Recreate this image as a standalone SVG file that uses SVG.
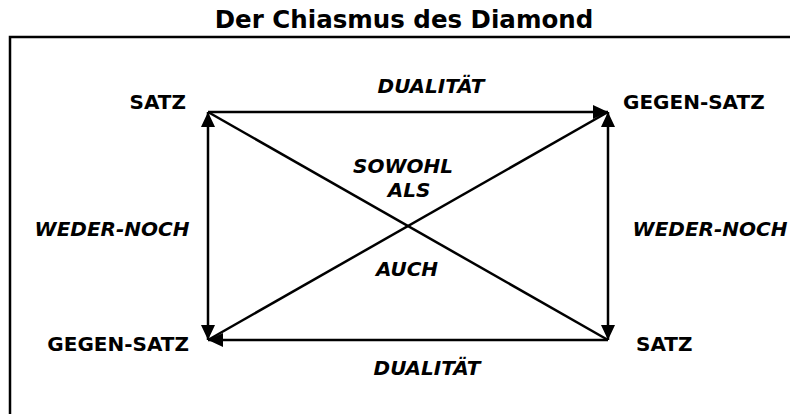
<svg xmlns="http://www.w3.org/2000/svg" width="790" height="414" viewBox="0 0 790 414">
  <style>
    .lbl { font-family: "DejaVu Sans", Verdana, sans-serif; font-weight: bold; font-size: 20px; fill: #000; }
    .it { font-style: italic; }
    .title { font-family: "DejaVu Sans", Verdana, sans-serif; font-weight: bold; font-size: 24.5px; fill: #000; }
    .edge { stroke: #000; stroke-width: 2.5; fill: none; }
  </style>
  <defs>
    <marker id="ah" markerUnits="userSpaceOnUse" markerWidth="16" markerHeight="14" refX="15" refY="7" orient="auto-start-reverse">
      <path d="M0,0 L15,7 L0,14 z" fill="#000"/>
    </marker>
  </defs>
  <rect x="10" y="37" width="800" height="400" fill="none" stroke="#000" stroke-width="2.5"/>
  <text class="title" x="404" y="28" text-anchor="middle">Der Chiasmus des Diamond</text>

  <g id="connectors">
    <line class="edge" x1="208" y1="112" x2="608" y2="112" marker-end="url(#ah)"/>
    <line class="edge" x1="608" y1="340" x2="208" y2="340" marker-end="url(#ah)"/>
    <line class="edge" x1="208" y1="112" x2="208" y2="340" marker-start="url(#ah)" marker-end="url(#ah)"/>
    <line class="edge" x1="608" y1="112" x2="608" y2="340" marker-start="url(#ah)" marker-end="url(#ah)"/>
    <line class="edge" x1="208" y1="112" x2="608" y2="340"/>
    <line class="edge" x1="608" y1="112" x2="208" y2="340"/>
  </g>

  <g id="node-satz-top"><text class="lbl" x="186" y="109" text-anchor="end">SATZ</text></g>
  <g id="node-gegensatz-top"><text class="lbl" x="623" y="109">GEGEN-SATZ</text></g>
  <g id="node-gegensatz-bottom"><text class="lbl" x="189" y="351" text-anchor="end">GEGEN-SATZ</text></g>
  <g id="node-satz-bottom"><text class="lbl" x="636" y="351">SATZ</text></g>

  <g id="edge-labels">
    <text class="lbl it" x="431" y="93" text-anchor="middle">DUALITÄT</text>
    <text class="lbl it" x="427" y="375" text-anchor="middle">DUALITÄT</text>
    <text class="lbl it" x="112" y="236" text-anchor="middle">WEDER-NOCH</text>
    <text class="lbl it" x="710" y="236" text-anchor="middle">WEDER-NOCH</text>
    <text class="lbl it" x="403" y="173" text-anchor="middle">SOWOHL</text>
    <text class="lbl it" x="409" y="197" text-anchor="middle">ALS</text>
    <text class="lbl it" x="407" y="276" text-anchor="middle">AUCH</text>
  </g>
</svg>
